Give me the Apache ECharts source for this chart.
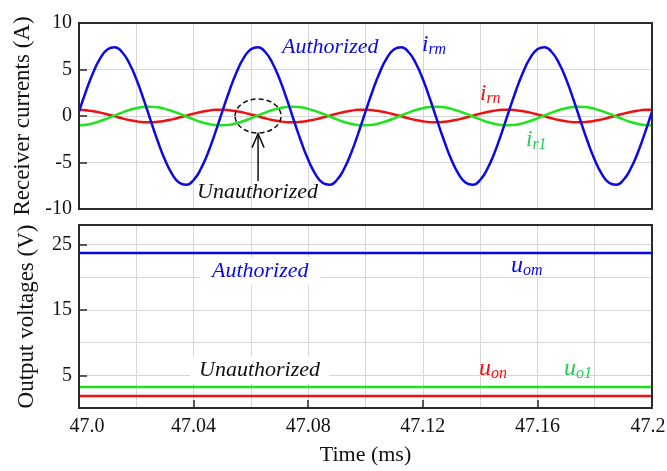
<!DOCTYPE html>
<html>
<head>
<meta charset="utf-8">
<script src="https://cdn.jsdelivr.net/npm/echarts@6/dist/echarts.min.js"></script>
<style>
  html, body { margin: 0; padding: 0; background: #fff; }
  #chart { width: 667px; height: 471px; }
</style>
</head>
<body>
<div id="chart"></div>
<script>
// time samples (ms)
const timeMs = [
  47.0000, 47.0025, 47.0050, 47.0075, 47.0100, 47.0125, 47.0150, 47.0175, 47.0200, 47.0225,
  47.0250, 47.0275, 47.0300, 47.0325, 47.0350, 47.0375, 47.0400, 47.0425, 47.0450, 47.0475,
  47.0500, 47.0525, 47.0550, 47.0575, 47.0600, 47.0625, 47.0650, 47.0675, 47.0700, 47.0725,
  47.0750, 47.0775, 47.0800, 47.0825, 47.0850, 47.0875, 47.0900, 47.0925, 47.0950, 47.0975,
  47.1000, 47.1025, 47.1050, 47.1075, 47.1100, 47.1125, 47.1150, 47.1175, 47.1200, 47.1225,
  47.1250, 47.1275, 47.1300, 47.1325, 47.1350, 47.1375, 47.1400, 47.1425, 47.1450, 47.1475,
  47.1500, 47.1525, 47.1550, 47.1575, 47.1600, 47.1625, 47.1650, 47.1675, 47.1700, 47.1725,
  47.1750, 47.1775, 47.1800, 47.1825, 47.1850, 47.1875, 47.1900, 47.1925, 47.1950, 47.1975,
  47.2000
];

// receiver currents (A)
const irm = [
  0.47, 2.72, 4.71, 6.25, 7.17, 7.39, 6.88, 5.70, 3.97, 1.84,
  -0.47, -2.72, -4.71, -6.25, -7.17, -7.39, -6.88, -5.70, -3.97, -1.84,
  0.47, 2.72, 4.71, 6.25, 7.17, 7.39, 6.88, 5.70, 3.97, 1.84,
  -0.47, -2.72, -4.71, -6.25, -7.17, -7.39, -6.88, -5.70, -3.97, -1.84,
  0.47, 2.72, 4.71, 6.25, 7.17, 7.39, 6.88, 5.70, 3.97, 1.84,
  -0.47, -2.72, -4.71, -6.25, -7.17, -7.39, -6.88, -5.70, -3.97, -1.84,
  0.47, 2.72, 4.71, 6.25, 7.17, 7.39, 6.88, 5.70, 3.97, 1.84,
  -0.47, -2.72, -4.71, -6.25, -7.17, -7.39, -6.88, -5.70, -3.97, -1.84,
  0.47
];
const irn = [
  0.68, 0.63, 0.52, 0.36, 0.17, -0.04, -0.25, -0.43, -0.57, -0.66,
  -0.68, -0.63, -0.52, -0.36, -0.17, 0.04, 0.25, 0.43, 0.57, 0.66,
  0.68, 0.63, 0.52, 0.36, 0.17, -0.04, -0.25, -0.43, -0.57, -0.66,
  -0.68, -0.63, -0.52, -0.36, -0.17, 0.04, 0.25, 0.43, 0.57, 0.66,
  0.68, 0.63, 0.52, 0.36, 0.17, -0.04, -0.25, -0.43, -0.57, -0.66,
  -0.68, -0.63, -0.52, -0.36, -0.17, 0.04, 0.25, 0.43, 0.57, 0.66,
  0.68, 0.63, 0.52, 0.36, 0.17, -0.04, -0.25, -0.43, -0.57, -0.66,
  -0.68, -0.63, -0.52, -0.36, -0.17, 0.04, 0.25, 0.43, 0.57, 0.66,
  0.68
];
const ir1 = [
  -1.00, -0.93, -0.77, -0.54, -0.25, 0.06, 0.37, 0.64, 0.84, 0.97,
  1.00, 0.93, 0.77, 0.54, 0.25, -0.06, -0.37, -0.64, -0.84, -0.97,
  -1.00, -0.93, -0.77, -0.54, -0.25, 0.06, 0.37, 0.64, 0.84, 0.97,
  1.00, 0.93, 0.77, 0.54, 0.25, -0.06, -0.37, -0.64, -0.84, -0.97,
  -1.00, -0.93, -0.77, -0.54, -0.25, 0.06, 0.37, 0.64, 0.84, 0.97,
  1.00, 0.93, 0.77, 0.54, 0.25, -0.06, -0.37, -0.64, -0.84, -0.97,
  -1.00, -0.93, -0.77, -0.54, -0.25, 0.06, 0.37, 0.64, 0.84, 0.97,
  1.00, 0.93, 0.77, 0.54, 0.25, -0.06, -0.37, -0.64, -0.84, -0.97,
  -1.00
];

// output voltages (V), flat over the window
const voltTimes = [47.0, 47.2];
const uom = [23.7, 23.7];
const uo1 = [3.2, 3.2];
const uon = [1.85, 1.85];

// tick labels
const timeTicks = ["47.0", "47.04", "47.08", "47.12", "47.16", "47.2"];
const voltTicks = [5, 15, 25];

const FONT = "Liberation Serif";
const BLUE = "#0a0ae8";
const RED = "#ee1111";
const GREEN = "#1ee41e";
const GRIDC = "#d6d6d6";

const pairs = (xs, ys) => xs.map((x, i) => [x, ys[i]]);

const chartDom = document.getElementById("chart");
const myChart = echarts.init(chartDom);

const xCommon = {
  type: "value",
  min: 47.0,
  max: 47.2,
  interval: 0.04,
  splitLine: { show: true, lineStyle: { color: GRIDC, width: 1 } },
  minorTick: { show: false, splitNumber: 2 },
  minorSplitLine: { show: true, lineStyle: { color: GRIDC, width: 1 } },
  axisLine: { show: false },
};

const labelFont = { fontSize: 20, color: "#111", fontFamily: FONT };

const option = {
  animation: false,
  textStyle: { fontFamily: FONT },
  grid: [
    { left: 79, top: 23, width: 573, height: 186, show: true, z: 10, outerBoundsMode: "none",
      backgroundColor: "rgba(0,0,0,0)", borderColor: "#2a2a2a", borderWidth: 2 },
    { left: 79, top: 225, width: 573, height: 183, show: true, z: 10, outerBoundsMode: "none",
      backgroundColor: "rgba(0,0,0,0)", borderColor: "#2a2a2a", borderWidth: 2 },
  ],
  xAxis: [
    Object.assign({}, xCommon, {
      gridIndex: 0,
      axisTick: { show: false },
      axisLabel: { show: false },
    }),
    Object.assign({}, xCommon, {
      gridIndex: 1,
      axisTick: { show: true, inside: true, length: 8, lineStyle: { color: "#2a2a2a", width: 1.5 } },
      axisLabel: Object.assign({
        margin: 9,
        formatter: (v) => {
          const k = Math.round((v - 47.0) / 0.04);
          const s = timeTicks[k] || "";
          if (k === 0) return "{l|" + s + "}";
          if (k === timeTicks.length - 1) return "{r|" + s + "}";
          return s;
        },
        rich: {
          l: Object.assign({ padding: [0, 0, 0, 16] }, labelFont),
          r: Object.assign({ padding: [0, 8, 0, 0] }, labelFont),
        },
      }, labelFont),
      name: "Time (ms)",
      nameLocation: "middle",
      nameGap: 36,
      nameTextStyle: { fontSize: 22, color: "#111", fontFamily: FONT },
    }),
  ],
  yAxis: [
    {
      type: "value",
      gridIndex: 0,
      min: -10,
      max: 10,
      interval: 5,
      axisLine: { show: false },
      axisTick: { show: true, inside: true, length: 8, lineStyle: { color: "#2a2a2a", width: 1.5 } },
      axisLabel: Object.assign({ margin: 7 }, labelFont),
      splitLine: { show: true, lineStyle: { color: GRIDC, width: 1 } },
      name: "Receiver currents (A)",
      nameLocation: "middle",
      nameGap: 41,
      nameTextStyle: { fontSize: 23, color: "#111", fontFamily: FONT },
    },
    {
      type: "value",
      gridIndex: 1,
      min: 0,
      max: 28,
      interval: 5,
      axisLine: { show: false },
      axisTick: { show: false },
      axisLabel: { show: false },
      splitLine: { show: true, lineStyle: { color: GRIDC, width: 1 } },
    },
    {
      type: "value",
      gridIndex: 1,
      position: "left",
      min: 0,
      max: 28,
      axisLine: { show: false },
      splitLine: { show: false },
      axisTick: { show: true, inside: true, length: 8, customValues: voltTicks,
        lineStyle: { color: "#2a2a2a", width: 1.5 } },
      axisLabel: Object.assign({ margin: 7, customValues: voltTicks }, labelFont),
      name: "Output voltages (V)",
      nameLocation: "middle",
      nameGap: 41,
      nameTextStyle: { fontSize: 23, color: "#111", fontFamily: FONT },
    },
  ],
  series: [
    { name: "irn", type: "line", xAxisIndex: 0, yAxisIndex: 0, data: pairs(timeMs, irn),
      showSymbol: false, smooth: true, lineStyle: { color: RED, width: 2.5 } },
    { name: "ir1", type: "line", xAxisIndex: 0, yAxisIndex: 0, data: pairs(timeMs, ir1),
      showSymbol: false, smooth: true, lineStyle: { color: GREEN, width: 2.5 } },
    { name: "irm", type: "line", xAxisIndex: 0, yAxisIndex: 0, data: pairs(timeMs, irm),
      showSymbol: false, smooth: true, lineStyle: { color: BLUE, width: 2.5 } },
    { name: "uom", type: "line", xAxisIndex: 1, yAxisIndex: 1, data: pairs(voltTimes, uom),
      showSymbol: false, lineStyle: { color: BLUE, width: 2.5 } },
    { name: "uo1", type: "line", xAxisIndex: 1, yAxisIndex: 1, data: pairs(voltTimes, uo1),
      showSymbol: false, lineStyle: { color: GREEN, width: 2.5 } },
    { name: "uon", type: "line", xAxisIndex: 1, yAxisIndex: 1, data: pairs(voltTimes, uon),
      showSymbol: false, lineStyle: { color: RED, width: 2.5 } },
  ],
};

myChart.setOption(option);

// annotations
const px = (g, t, v) => myChart.convertToPixel({ gridIndex: g }, [t, v]);

const plainText = (x, y, text, color, extra) => ({
  type: "text", x: x, y: y, z: 20,
  style: Object.assign({
    text: text, fill: color, fontFamily: FONT, fontStyle: "italic", fontSize: 22,
    verticalAlign: "middle", align: "left",
  }, extra || {}),
});

const subText = (x, y, main, sub, color, size) => ({
  type: "text", x: x, y: y, z: 20,
  style: {
    text: "{m|" + main + "}{s|" + sub + "}",
    fill: color, verticalAlign: "middle", align: "left",
    rich: {
      m: { fontFamily: FONT, fontStyle: "italic", fontSize: size, lineHeight: 26, fill: color },
      s: { fontFamily: FONT, fontStyle: "italic", fontSize: 16, lineHeight: 12, verticalAlign: "bottom", fill: color },
    },
  },
});

const ell = px(0, 47.0625, 0);
const arrowTip = px(0, 47.0625, -1.9);
const arrowTail = px(0, 47.0625, -7.0);

myChart.setOption({
  graphic: [
    {
      type: "ellipse", z: 20,
      shape: { cx: ell[0], cy: ell[1], rx: 23, ry: 17 },
      style: { fill: "none", stroke: "#111", lineWidth: 1.5, lineDash: [5, 3] },
    },
    {
      type: "line", z: 20,
      shape: { x1: arrowTail[0], y1: arrowTail[1], x2: arrowTip[0], y2: arrowTip[1] },
      style: { stroke: "#111", lineWidth: 1.5 },
    },
    {
      type: "polyline", z: 20,
      shape: { points: [[arrowTip[0] - 6, arrowTip[1] + 14], [arrowTip[0], arrowTip[1]], [arrowTip[0] + 6, arrowTip[1] + 14]] },
      style: { fill: "none", stroke: "#111", lineWidth: 1.5 },
    },
    plainText(282, 47, "Authorized", BLUE),
    subText(422, 45, "i", "rm", BLUE, 23),
    subText(480, 94, "i", "rn", RED, 23),
    subText(526, 140, "i", "r1", "#22cc55", 23),
    plainText(197, 192, "Unauthorized", "#111"),
    plainText(200, 271, "Authorized", BLUE, { backgroundColor: "#fff", padding: [3, 12, 3, 12] }),
    subText(511, 266, "u", "om", BLUE, 24),
    plainText(190, 370, "Unauthorized", "#111", { backgroundColor: "#fff", padding: [3, 9, 3, 9] }),
    subText(479, 369, "u", "on", RED, 24),
    subText(564, 369, "u", "o1", "#22cc55", 24),
  ],
});
</script>
</body>
</html>
